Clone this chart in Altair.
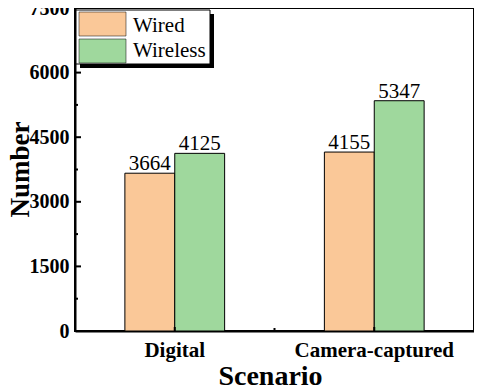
import altair as alt
import pandas as pd

scenarios = ["Digital", "Camera-captured"]
types = ["Wired", "Wireless"]
wired = [3664, 4155]
wireless = [4125, 5347]
colors = ["#FAC898", "#9FD89D"]
y_major = [0, 1500, 3000, 4500, 6000, 7500]
y_minor = [750, 2250, 3750, 5250, 6750]

rows = []
for s, a, b in zip(scenarios, wired, wireless):
    rows.append({"Scenario": s, "Type": "Wired", "Number": a})
    rows.append({"Scenario": s, "Type": "Wireless", "Number": b})
df = pd.DataFrame(rows)

FONT = "Liberation Serif"
W, H = 399, 323
PAD_L, PAD_B = 67, 57

xenc = alt.X(
    "Scenario:N",
    sort=scenarios,
    scale=alt.Scale(paddingInner=0.5, paddingOuter=0.25),
    axis=alt.Axis(
        title="Scenario", labelAngle=0, ticks=False, labelPadding=8,
        labelFont=FONT, labelFontSize=21, labelFontWeight="bold", labelColor="black",
        titleFont=FONT, titleFontSize=28, titleFontWeight="bold", titleColor="black",
        titleBaseline="alphabetic", titleY=53, titleX=195,
        domainColor="black", domainWidth=2,
    ),
)
xoff = alt.XOffset("Type:N", sort=types, scale=alt.Scale(paddingInner=0, paddingOuter=0))
yenc = alt.Y(
    "Number:Q",
    scale=alt.Scale(domain=[0, 7500], nice=False),
    axis=alt.Axis(
        title="Number", values=y_major, format="d", ticks=False, labelPadding=6, grid=False,
        labelFont=FONT, labelFontSize=20, labelFontWeight="bold", labelColor="black",
        titleFont=FONT, titleFontSize=27, titleFontWeight="bold", titleColor="black",
        titleAngle=-90, titleBaseline="alphabetic", titleAlign="center",
        titleX=-47, titleY=161,
        domainColor="black", domainWidth=2,
    ),
)

base = alt.Chart(df)

bars = base.mark_bar(stroke="black", strokeWidth=1).encode(
    x=xenc,
    xOffset=xoff,
    y=yenc,
    color=alt.Color("Type:N", sort=types, scale=alt.Scale(domain=types, range=colors), legend=None),
)

labels = base.mark_text(font=FONT, fontSize=21, baseline="alphabetic", dy=-3, color="black").encode(
    x=alt.X("Scenario:N", sort=scenarios),
    xOffset=alt.XOffset("Type:N", sort=types),
    y=alt.Y("Number:Q"),
    text="Number:Q",
)

ymaj = alt.Chart(pd.DataFrame({"Number": y_major})).mark_rule(color="black", strokeWidth=2).encode(
    y=alt.Y("Number:Q"), x=alt.value(0), x2=alt.value(6)
)
ymin = alt.Chart(pd.DataFrame({"Number": y_minor})).mark_rule(color="black", strokeWidth=2).encode(
    y=alt.Y("Number:Q"), x=alt.value(0), x2=alt.value(3)
)
xmaj = alt.Chart(pd.DataFrame({"Scenario": scenarios})).mark_rule(color="black", strokeWidth=2).encode(
    x=alt.X("Scenario:N", sort=scenarios), y=alt.value(H), y2=alt.value(H - 4)
)

# legend (drawn as decoration, top-left inside the plot)
one = pd.DataFrame({"k": [0]})
leg_shadow = alt.Chart(one).mark_rect(color="black").encode(
    x=alt.value(5), x2=alt.value(139), y=alt.value(6), y2=alt.value(60)
)
leg_box = alt.Chart(one).mark_rect(fill="white", stroke="black", strokeWidth=1).encode(
    x=alt.value(1), x2=alt.value(135), y=alt.value(2), y2=alt.value(56)
)
leg_items = []
row_top = [4, 31]
row_base = [24, 49]
for t, c, yt, yb in zip(types, colors, row_top, row_base):
    leg_items.append(
        alt.Chart(one).mark_rect(fill=c, stroke="black", strokeWidth=0.5).encode(
            x=alt.value(4), x2=alt.value(51), y=alt.value(yt), y2=alt.value(yt + 24)
        )
    )
    leg_items.append(
        alt.Chart(one).mark_text(
            text=t, font=FONT, fontSize=21, align="left", baseline="alphabetic", color="black"
        ).encode(x=alt.value(58), y=alt.value(yb))
    )

inner = alt.layer(bars, labels, ymaj, ymin, xmaj, leg_shadow, leg_box, *leg_items)

xmid = alt.Chart(pd.DataFrame({"m": [0.5]})).mark_rule(color="black", strokeWidth=2).encode(
    x=alt.X("m:Q", scale=alt.Scale(domain=[0, 1]), axis=None), y=alt.value(H), y2=alt.value(H - 3)
)

chart = alt.layer(inner, xmid).resolve_scale(x="independent").properties(
    width=W, height=H,
    autosize=alt.AutoSizeParams(type="none"),
    padding={"left": PAD_L, "top": 0, "right": 0, "bottom": PAD_B},
).configure(
    background="white", font=FONT
).configure_view(
    stroke="black", strokeWidth=2
).configure_axis(
    labelFont=FONT, titleFont=FONT, labelFontWeight="bold", titleFontWeight="bold",
    labelColor="black", titleColor="black", domainColor="black", domainWidth=2,
    ticks=False, grid=False,
).configure_axisX(
    labelFontSize=21, labelPadding=8, labelAngle=0, titleFontSize=28
).configure_axisY(
    labelFontSize=20, labelPadding=6, titleFontSize=27
)

chart.save("out.html", embed_options={"renderer": "svg", "actions": False})
